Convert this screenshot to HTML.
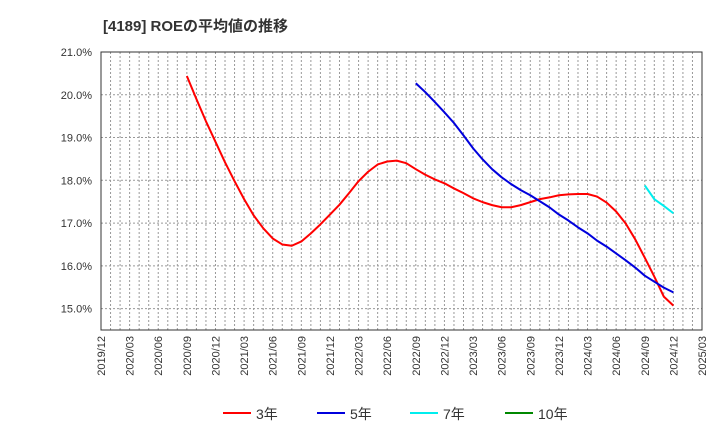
<!DOCTYPE html>
<html><head><meta charset="utf-8"><style>
body{margin:0;background:#fff;font-family:"Liberation Sans","Noto Sans CJK JP",sans-serif}
</style></head><body>
<svg id="c" width="720" height="440" xmlns="http://www.w3.org/2000/svg" font-family="Liberation Sans, Noto Sans CJK JP, sans-serif">
<text x="103" y="31" font-size="15" font-weight="bold" fill="#333">[4189]  ROEの平均値の推移</text>
</svg>
<script>
const xTicks=["2019/12","2020/03","2020/06","2020/09","2020/12","2021/03","2021/06","2021/09","2021/12","2022/03","2022/06","2022/09","2022/12","2023/03","2023/06","2023/09","2023/12","2024/03","2024/06","2024/09","2024/12","2025/03"];
const yTicks=[15,16,17,18,19,20,21];
const s3Start=9;
const s3=[20.44,19.9,19.38,18.9,18.42,17.98,17.56,17.18,16.88,16.64,16.5,16.47,16.57,16.76,16.97,17.2,17.43,17.7,17.98,18.2,18.37,18.44,18.46,18.4,18.26,18.13,18.02,17.93,17.81,17.7,17.58,17.49,17.42,17.37,17.37,17.42,17.49,17.56,17.6,17.65,17.67,17.68,17.68,17.62,17.48,17.27,16.99,16.62,16.19,15.75,15.28,15.07];
const s5Start=33;
const s5=[20.27,20.06,19.83,19.59,19.34,19.05,18.75,18.49,18.26,18.07,17.91,17.77,17.65,17.51,17.37,17.2,17.06,16.9,16.76,16.59,16.45,16.29,16.13,15.96,15.77,15.63,15.49,15.38];
const s7Start=57;
const s7=[17.88,17.56,17.4,17.23];
const L=101,R=702,T=52,B=330,months=63,yMin=14.5,yMax=21.0;
const X=m=>L+(R-L)*m/months;
const Y=v=>B-(B-T)*(v-yMin)/(yMax-yMin);
const svg=document.getElementById('c');const NS='http://www.w3.org/2000/svg';
function mk(t,a){const e=document.createElementNS(NS,t);for(const k in a)e.setAttribute(k,a[k]);svg.appendChild(e);return e;}
for(let m=1;m<months;m++){
 const g=mk('line',{x1:X(m),x2:X(m),y1:T,y2:B,stroke:'#999','stroke-dasharray':'2,2','stroke-width':1});
 
 
}
yTicks.forEach(v=>{
 if(v<yMax){const g=mk('line',{x1:L,x2:R,y1:Y(v),y2:Y(v),stroke:'#999','stroke-dasharray':'2,2'});
 
 }
 const t=mk('text',{x:92,y:Y(v)+4,'text-anchor':'end','font-size':11,fill:'#333'});
 
 
 t.textContent=v.toFixed(1)+'%';
});
xTicks.forEach((s,i)=>{
 const x=X(i*3);
 const t=mk('text',{x:0,y:0,transform:`translate(${x+4},${B+6}) rotate(-90)`,'text-anchor':'end','font-size':11,fill:'#333'});
 
 
 t.textContent=s;
});
const fr=mk('rect',{x:L,y:T,width:R-L,height:B-T,fill:'none',stroke:'#333','stroke-width':1});


function series(d,st,col,name){
 const p=mk('polyline',{points:d.map((v,i)=>X(st+i)+','+Y(v)).join(' '),fill:'none',stroke:col,'stroke-width':2,'stroke-linejoin':'round'});
 
 
}
series(s3,s3Start,'#ff0000','line-3yr');
series(s5,s5Start,'#0000dd','line-5yr');
series(s7,s7Start,'#00eeee','line-7yr');
const leg=[['3年','#ff0000',223],['5年','#0000dd',317],['7年','#00eeee',410],['10年','#008800',505]];
leg.forEach(([n,c,x])=>{
 const l=mk('line',{x1:x,x2:x+28,y1:413,y2:413,stroke:c,'stroke-width':2});
 
 
 const t=mk('text',{x:x+33,y:419,'font-size':14,fill:'#333'});
 
 
 t.textContent=n;
});
</script>
</body></html>
